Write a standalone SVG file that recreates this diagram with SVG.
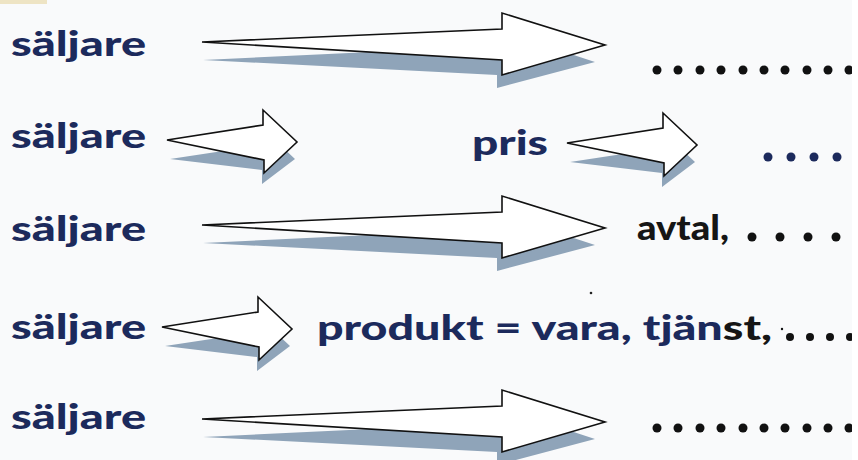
<svg xmlns="http://www.w3.org/2000/svg" xmlns:xlink="http://www.w3.org/1999/xlink" width="858" height="460" viewBox="0 0 858 460">
<style>
.lbl{font-family:"Lato","Liberation Sans",sans-serif;font-weight:900;font-size:35px;fill:#1c2a5c}
.blk{fill:#151515}
.arr{fill:#ffffff;stroke:#111;stroke-width:1.6;stroke-linejoin:miter}
.shd{fill:#8fa4b9;stroke:none}
.dot{fill:#111}
.ndot{fill:#1c2a5c}
</style>
<defs>
<g id="longArrow">
<polygon class="shd" points="203,60 497,46 497,30 595,62 497,88 497,75"/>
<polygon class="arr" points="202,42 502,29 502,13 605,45 502,75 502,60"/>
</g>
<g id="shortArrow">
<polygon class="shd" points="170,159 262,145 262,128 295,159 262,184 262,170"/>
<polygon class="arr" points="167,140 263,125 263,110 297,142 264,173 264,160"/>
</g>
</defs>
<rect x="0" y="0" width="858" height="460" fill="#f9fafb"/>
<rect x="0" y="0" width="47" height="4" fill="#eee4c4"/>
<g id="connectors">
<use xlink:href="#longArrow"/>
<use xlink:href="#shortArrow"/>
<use xlink:href="#shortArrow" transform="translate(400,3)"/>
<use xlink:href="#longArrow" transform="translate(0,183)"/>
<use xlink:href="#shortArrow" transform="translate(-5,187)"/>
<use xlink:href="#longArrow" transform="translate(0,377)"/>
</g>
<g id="seller1"><text class="lbl" x="11" y="56" textLength="135" lengthAdjust="spacingAndGlyphs">säljare</text></g>
<g id="seller2"><text class="lbl" x="11" y="148" textLength="135" lengthAdjust="spacingAndGlyphs">säljare</text></g>
<g id="seller3"><text class="lbl" x="11" y="241" textLength="135" lengthAdjust="spacingAndGlyphs">säljare</text></g>
<g id="seller4"><text class="lbl" x="11" y="339" textLength="135" lengthAdjust="spacingAndGlyphs">säljare</text></g>
<g id="seller5"><text class="lbl" x="11" y="429" textLength="135" lengthAdjust="spacingAndGlyphs">säljare</text></g>
<g id="pris"><text class="lbl" x="472" y="155" textLength="76" lengthAdjust="spacingAndGlyphs">pris</text></g>
<g id="avtal"><text class="lbl blk" x="637" y="240" textLength="92" lengthAdjust="spacingAndGlyphs">avtal,</text></g>
<g id="produkt"><text class="lbl" x="317" y="340" textLength="455" lengthAdjust="spacingAndGlyphs">produkt = vara, tjän<tspan class="blk">st,</tspan></text></g>
<g id="dots1" class="dot">
<circle cx="657" cy="70" r="4.5"/><circle cx="678" cy="70" r="4.5"/><circle cx="700" cy="70" r="4.5"/><circle cx="721" cy="70" r="4.5"/><circle cx="743" cy="70" r="4.5"/><circle cx="764" cy="70" r="4.5"/><circle cx="785" cy="70" r="4.5"/><circle cx="807" cy="70" r="4.5"/><circle cx="828" cy="70" r="4.5"/><circle cx="849" cy="70" r="4.5"/>
</g>
<g id="dots2" class="ndot">
<circle cx="768" cy="157" r="4.5"/><circle cx="791" cy="157" r="4.5"/><circle cx="814" cy="157" r="4.5"/><circle cx="837" cy="157" r="4.5"/>
</g>
<g id="dots3" class="dot">
<circle cx="752" cy="237" r="4.5"/><circle cx="780" cy="237" r="4.5"/><circle cx="808" cy="237" r="4.5"/><circle cx="836" cy="237" r="4.5"/>
</g>
<g id="dots4" class="dot">
<circle cx="782" cy="329" r="1.2"/>
<circle cx="790" cy="337" r="4"/><circle cx="810" cy="337" r="4"/><circle cx="830" cy="337" r="4"/><circle cx="850" cy="337" r="4"/>
</g>
<g id="dots5" class="dot">
<circle cx="657" cy="428" r="4.5"/><circle cx="678" cy="428" r="4.5"/><circle cx="700" cy="428" r="4.5"/><circle cx="721" cy="428" r="4.5"/><circle cx="743" cy="428" r="4.5"/><circle cx="764" cy="428" r="4.5"/><circle cx="785" cy="428" r="4.5"/><circle cx="807" cy="428" r="4.5"/><circle cx="828" cy="428" r="4.5"/><circle cx="849" cy="428" r="4.5"/>
</g>
<circle cx="591" cy="293" r="1.3" fill="#222"/>
<rect x="852" y="0" width="6" height="460" fill="#ffffff"/>
</svg>
